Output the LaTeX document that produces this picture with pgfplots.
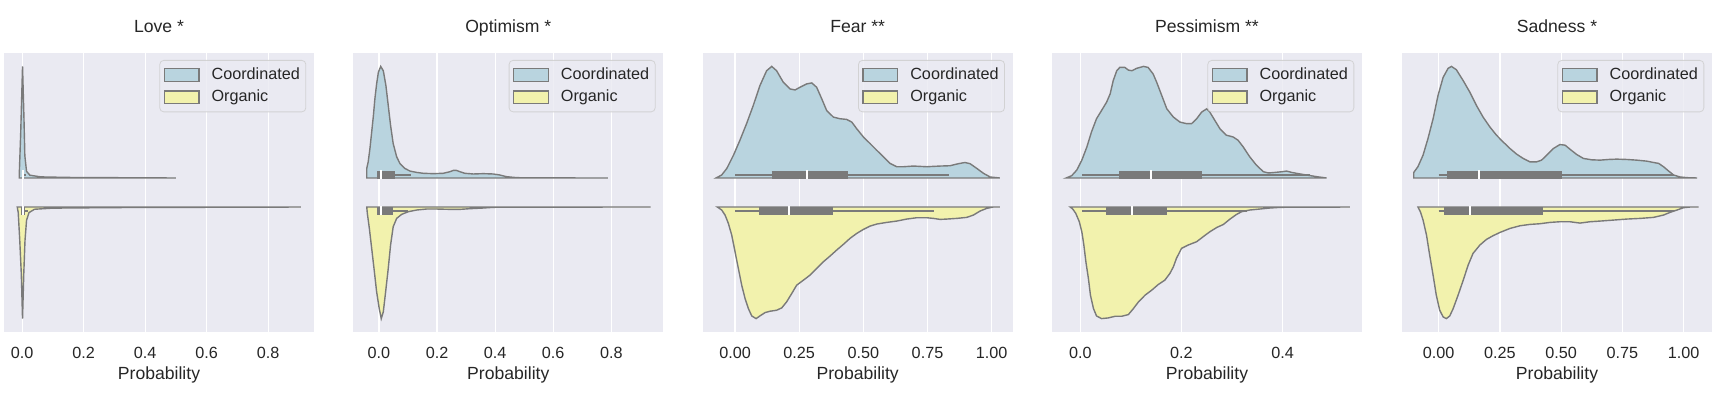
\documentclass[border=0pt]{standalone}
\usepackage{fontspec}
\setmainfont{Liberation Sans}
\usepackage{pgfplots}
\pgfplotsset{compat=1.18}
\usepackage{pgfplotstable}

\definecolor{bgc}{HTML}{EAEAF2}
\definecolor{cblue}{HTML}{B9D4DF}
\definecolor{oyel}{HTML}{F2F2AD}
\definecolor{vgray}{HTML}{7A7A7A}
\definecolor{txt}{HTML}{262626}
\definecolor{legframe}{HTML}{CCCCCC}

\newcommand{\ttl}{\fontsize{8.8}{10.5}\selectfont}
\newcommand{\tck}{\fontsize{8.1}{9.7}\selectfont}

% inner boxes: lo hi q1 q3 median
\newcommand{\cbox}[5]{%
  \addplot[vgray, line width=1pt, forget plot] coordinates {(#1,0.0645) (#2,0.0645)};
  \addplot[vgray, line width=4pt, forget plot] coordinates {(#3,0.0645) (#4,0.0645)};
  \addplot[white, line width=1pt, forget plot] coordinates {(#5,0.050) (#5,0.079)};
}
\newcommand{\obox}[5]{%
  \addplot[vgray, line width=1pt, forget plot] coordinates {(#1,-0.0645) (#2,-0.0645)};
  \addplot[vgray, line width=4pt, forget plot] coordinates {(#3,-0.0645) (#4,-0.0645)};
  \addplot[white, line width=1pt, forget plot] coordinates {(#5,-0.050) (#5,-0.079)};
}

\pgfplotsset{
  vio/.style={
    scale only axis, width=155pt, height=139.5pt,
    anchor=south west,
    ymin=-0.5, ymax=0.5, ytick=\empty,
    axis background/.style={fill=bgc},
    axis line style={draw=none},
    major tick length=0pt,
    xmajorgrids, grid style={white, line width=0.6pt},
    tick label style={font=\tck, text=txt},
    xticklabel style={inner sep=0pt, anchor=north, yshift=-7.3pt},
    xlabel={Probability},
    xlabel style={font=\ttl, text=txt, at={(rel axis cs:0.5,0)}, anchor=base, yshift=-23.5pt},
    title style={font=\ttl, text=txt, at={(rel axis cs:0.5,1)}, anchor=base, yshift=4.5pt},
    legend style={at={(rel axis cs:0.975,0.975)}, anchor=north east, font=\tck,
      text=txt, draw=legframe, fill=bgc, fill opacity=0.8, draw opacity=0.8, text opacity=1,
      rounded corners=2pt, inner xsep=2pt, inner ysep=2.5pt, row sep=2pt,
      nodes={inner sep=1pt},
      /tikz/every odd column/.append style={column sep=5pt}},
    legend cell align=left,
    legend image code/.code={\draw[#1, sharp corners, fill opacity=1, draw opacity=1, line width=0.6pt] (0pt,-3.2pt) rectangle (17.3pt,3.2pt);},
  },
  cv/.style={fill=cblue, draw=vgray, line width=0.7pt},
  ov/.style={fill=oyel, draw=vgray, line width=0.7pt},
}

\pgfplotstableread{
x h
-0.0097 0
-0.0090 0.08
-0.0050 0.40
0.0010 1.0
0.0055 0.55
0.0085 0.20
0.0140 0.06
0.0250 0.025
0.0600 0.01
0.1500 0.005
0.5000 0
}\loveC
\pgfplotstableread{
x h
-0.0162 0
-0.0130 0.05
-0.0080 0.30
-0.0030 0.60
0.0010 1.0
0.0050 0.60
0.0090 0.30
0.0140 0.12
0.0220 0.05
0.0400 0.02
0.1000 0.01
0.3000 0.005
0.9060 0
}\loveO
\pgfplotstableread{
x h
-0.042 0
-0.042 0.086
-0.037 0.145
-0.031 0.264
-0.025 0.412
-0.019 0.561
-0.014 0.709
-0.008 0.843
-0.002 0.947
0.006 1.0
0.015 0.961
0.024 0.828
0.032 0.650
0.040 0.472
0.049 0.309
0.061 0.190
0.072 0.131
0.089 0.086
0.107 0.062
0.130 0.050
0.153 0.042
0.187 0.039
0.221 0.042
0.244 0.056
0.256 0.068
0.267 0.068
0.279 0.056
0.296 0.042
0.325 0.036
0.359 0.039
0.393 0.036
0.416 0.027
0.439 0.012
0.474 0.003
0.531 0.001
0.788 0
}\optC
\pgfplotstableread{
x h
-0.042 0
-0.040 0.057
-0.033 0.192
-0.025 0.371
-0.017 0.551
-0.008 0.760
0.001 0.910
0.008 1.0
0.015 0.940
0.023 0.760
0.032 0.551
0.040 0.341
0.049 0.177
0.061 0.102
0.078 0.066
0.101 0.042
0.130 0.027
0.164 0.018
0.198 0.018
0.244 0.021
0.279 0.021
0.313 0.015
0.359 0.009
0.393 0.003
0.428 0.001
0.935 0
}\optO
\pgfplotstableread{
x h
-0.074 0
-0.052 0.027
-0.032 0.086
-0.006 0.205
0.019 0.338
0.045 0.487
0.071 0.650
0.097 0.828
0.123 0.961
0.143 1.0
0.162 0.961
0.188 0.858
0.214 0.798
0.234 0.789
0.253 0.813
0.279 0.843
0.299 0.852
0.318 0.813
0.338 0.709
0.357 0.605
0.383 0.546
0.409 0.531
0.435 0.525
0.455 0.501
0.474 0.442
0.500 0.368
0.526 0.309
0.552 0.249
0.578 0.190
0.604 0.131
0.630 0.101
0.656 0.101
0.695 0.107
0.747 0.101
0.799 0.107
0.838 0.110
0.870 0.128
0.896 0.139
0.916 0.128
0.942 0.086
0.968 0.042
0.994 0.009
1.032 0
}\fearC
\pgfplotstableread{
x h
-0.069 0
-0.052 0.027
-0.039 0.072
-0.026 0.147
-0.013 0.251
0.000 0.401
0.013 0.551
0.026 0.701
0.039 0.820
0.052 0.910
0.065 0.976
0.082 1.0
0.097 0.976
0.117 0.946
0.136 0.934
0.162 0.925
0.182 0.904
0.201 0.850
0.221 0.775
0.240 0.701
0.266 0.656
0.292 0.611
0.318 0.551
0.344 0.491
0.370 0.440
0.396 0.386
0.422 0.335
0.448 0.281
0.474 0.237
0.500 0.201
0.526 0.171
0.552 0.153
0.591 0.138
0.630 0.126
0.669 0.108
0.708 0.096
0.747 0.096
0.773 0.102
0.799 0.111
0.825 0.108
0.864 0.102
0.903 0.093
0.929 0.072
0.955 0.036
0.981 0.012
1.006 0
1.032 0
}\fearO
\pgfplotstableread{
x h
-0.028 0
-0.017 0.021
-0.007 0.071
0.003 0.160
0.013 0.279
0.022 0.412
0.032 0.531
0.042 0.605
0.052 0.680
0.059 0.754
0.065 0.872
0.072 0.961
0.078 0.991
0.088 0.991
0.095 0.967
0.102 0.961
0.111 0.982
0.125 1.0
0.134 0.991
0.144 0.932
0.151 0.858
0.161 0.739
0.171 0.620
0.184 0.546
0.197 0.501
0.210 0.487
0.220 0.487
0.230 0.531
0.240 0.591
0.250 0.620
0.256 0.591
0.266 0.516
0.276 0.442
0.289 0.383
0.302 0.368
0.312 0.338
0.322 0.279
0.335 0.190
0.348 0.116
0.362 0.056
0.372 0.045
0.385 0.050
0.398 0.056
0.408 0.062
0.418 0.050
0.431 0.039
0.447 0.027
0.467 0.012
0.487 0
}\pessC
\pgfplotstableread{
x h
-0.020 0
-0.015 0.018
-0.009 0.057
-0.002 0.132
0.003 0.222
0.007 0.341
0.011 0.491
0.016 0.641
0.020 0.790
0.026 0.910
0.032 0.976
0.042 1.0
0.055 0.994
0.069 0.979
0.082 0.979
0.095 0.964
0.105 0.910
0.115 0.850
0.128 0.790
0.141 0.746
0.154 0.695
0.167 0.656
0.177 0.596
0.184 0.536
0.190 0.461
0.200 0.371
0.213 0.341
0.230 0.311
0.243 0.266
0.256 0.222
0.270 0.183
0.283 0.156
0.296 0.108
0.309 0.066
0.319 0.042
0.335 0.027
0.355 0.018
0.375 0.009
0.395 0.003
0.414 0.002
0.533 0
}\pessO
\pgfplotstableread{
x h
-0.102 0
-0.102 0.050
-0.085 0.101
-0.064 0.205
-0.044 0.353
-0.023 0.531
-0.003 0.739
0.018 0.902
0.038 0.982
0.052 1.0
0.072 0.970
0.100 0.872
0.127 0.769
0.154 0.650
0.181 0.546
0.209 0.457
0.236 0.383
0.263 0.323
0.291 0.264
0.318 0.214
0.345 0.175
0.372 0.145
0.400 0.145
0.420 0.160
0.441 0.205
0.468 0.264
0.495 0.300
0.516 0.294
0.536 0.258
0.563 0.211
0.591 0.175
0.625 0.163
0.659 0.160
0.693 0.166
0.727 0.169
0.768 0.166
0.809 0.160
0.850 0.151
0.877 0.139
0.898 0.131
0.918 0.101
0.939 0.062
0.959 0.027
0.986 0.009
1.014 0.003
1.055 0
}\sadC
\pgfplotstableread{
x h
-0.085 0
-0.075 0.042
-0.064 0.117
-0.050 0.251
-0.037 0.431
-0.023 0.611
-0.010 0.790
0.004 0.925
0.018 0.985
0.031 1.0
0.045 0.976
0.059 0.910
0.079 0.790
0.100 0.656
0.120 0.521
0.140 0.416
0.168 0.341
0.195 0.290
0.222 0.257
0.250 0.228
0.291 0.192
0.332 0.168
0.372 0.156
0.413 0.150
0.454 0.138
0.495 0.132
0.536 0.132
0.577 0.144
0.618 0.132
0.659 0.126
0.714 0.117
0.768 0.108
0.823 0.102
0.877 0.093
0.918 0.072
0.945 0.048
0.973 0.027
1.000 0.006
1.027 0
1.061 0
}\sadO

\begin{document}
\begin{tikzpicture}
\useasboundingbox (0,0) rectangle (860pt,196pt);

\begin{axis}[vio, at={(2pt,30pt)}, xmin=-0.0593, xmax=0.949,
  xtick={0,0.2,0.4,0.6,0.8}, xticklabels={0.0,0.2,0.4,0.6,0.8}, title={Love *}]
\addplot[cv] table[x=x, y expr=0.052+0.4*\thisrow{h}] {\loveC} -- cycle;
\addlegendentry{Coordinated}
\addplot[ov] table[x=x, y expr=-0.052-0.4*\thisrow{h}] {\loveO} -- cycle;
\addlegendentry{Organic}
\cbox{0}{0.012}{-0.002}{0.006}{0.002}
\obox{0}{0.02}{-0.004}{0.008}{0.002}
\end{axis}

\begin{axis}[vio, at={(176.65pt,30pt)}, xmin=-0.0883, xmax=0.979,
  xtick={0,0.2,0.4,0.6,0.8}, xticklabels={0.0,0.2,0.4,0.6,0.8}, title={Optimism *}]
\addplot[cv] table[x=x, y expr=0.052+0.4*\thisrow{h}] {\optC} -- cycle;
\addlegendentry{Coordinated}
\addplot[ov] table[x=x, y expr=-0.052-0.4*\thisrow{h}] {\optO} -- cycle;
\addlegendentry{Organic}
\cbox{0}{0.109}{-0.005}{0.055}{0.006}
\obox{0}{0.101}{-0.005}{0.049}{0.006}
\end{axis}

\begin{axis}[vio, at={(351.35pt,30pt)}, xmin=-0.126, xmax=1.082,
  xtick={0,0.25,0.5,0.75,1}, xticklabels={0.00,0.25,0.50,0.75,1.00}, title={Fear **}]
\addplot[cv] table[x=x, y expr=0.052+0.4*\thisrow{h}] {\fearC} -- cycle;
\addlegendentry{Coordinated}
\addplot[ov] table[x=x, y expr=-0.052-0.4*\thisrow{h}] {\fearO} -- cycle;
\addlegendentry{Organic}
\cbox{0}{0.835}{0.143}{0.439}{0.279}
\obox{0}{0.777}{0.095}{0.383}{0.210}
\end{axis}

\begin{axis}[vio, at={(526pt,30pt)}, xmin=-0.056, xmax=0.557,
  xtick={0,0.2,0.4}, xticklabels={0.0,0.2,0.4}, title={Pessimism **}]
\addplot[cv] table[x=x, y expr=0.052+0.4*\thisrow{h}] {\pessC} -- cycle;
\addlegendentry{Coordinated}
\addplot[ov] table[x=x, y expr=-0.052-0.4*\thisrow{h}] {\pessO} -- cycle;
\addlegendentry{Organic}
\cbox{0.003}{0.454}{0.077}{0.240}{0.140}
\obox{0.003}{0.329}{0.051}{0.171}{0.103}
\end{axis}

\begin{axis}[vio, at={(701pt,30pt)}, xmin=-0.150, xmax=1.116,
  xtick={0,0.25,0.5,0.75,1}, xticklabels={0.00,0.25,0.50,0.75,1.00}, title={Sadness *}]
\addplot[cv] table[x=x, y expr=0.052+0.4*\thisrow{h}] {\sadC} -- cycle;
\addlegendentry{Coordinated}
\addplot[ov] table[x=x, y expr=-0.052-0.4*\thisrow{h}] {\sadO} -- cycle;
\addlegendentry{Organic}
\cbox{0}{0.959}{0.035}{0.505}{0.164}
\obox{0}{0.959}{0.022}{0.427}{0.127}
\end{axis}
\end{tikzpicture}
\end{document}
